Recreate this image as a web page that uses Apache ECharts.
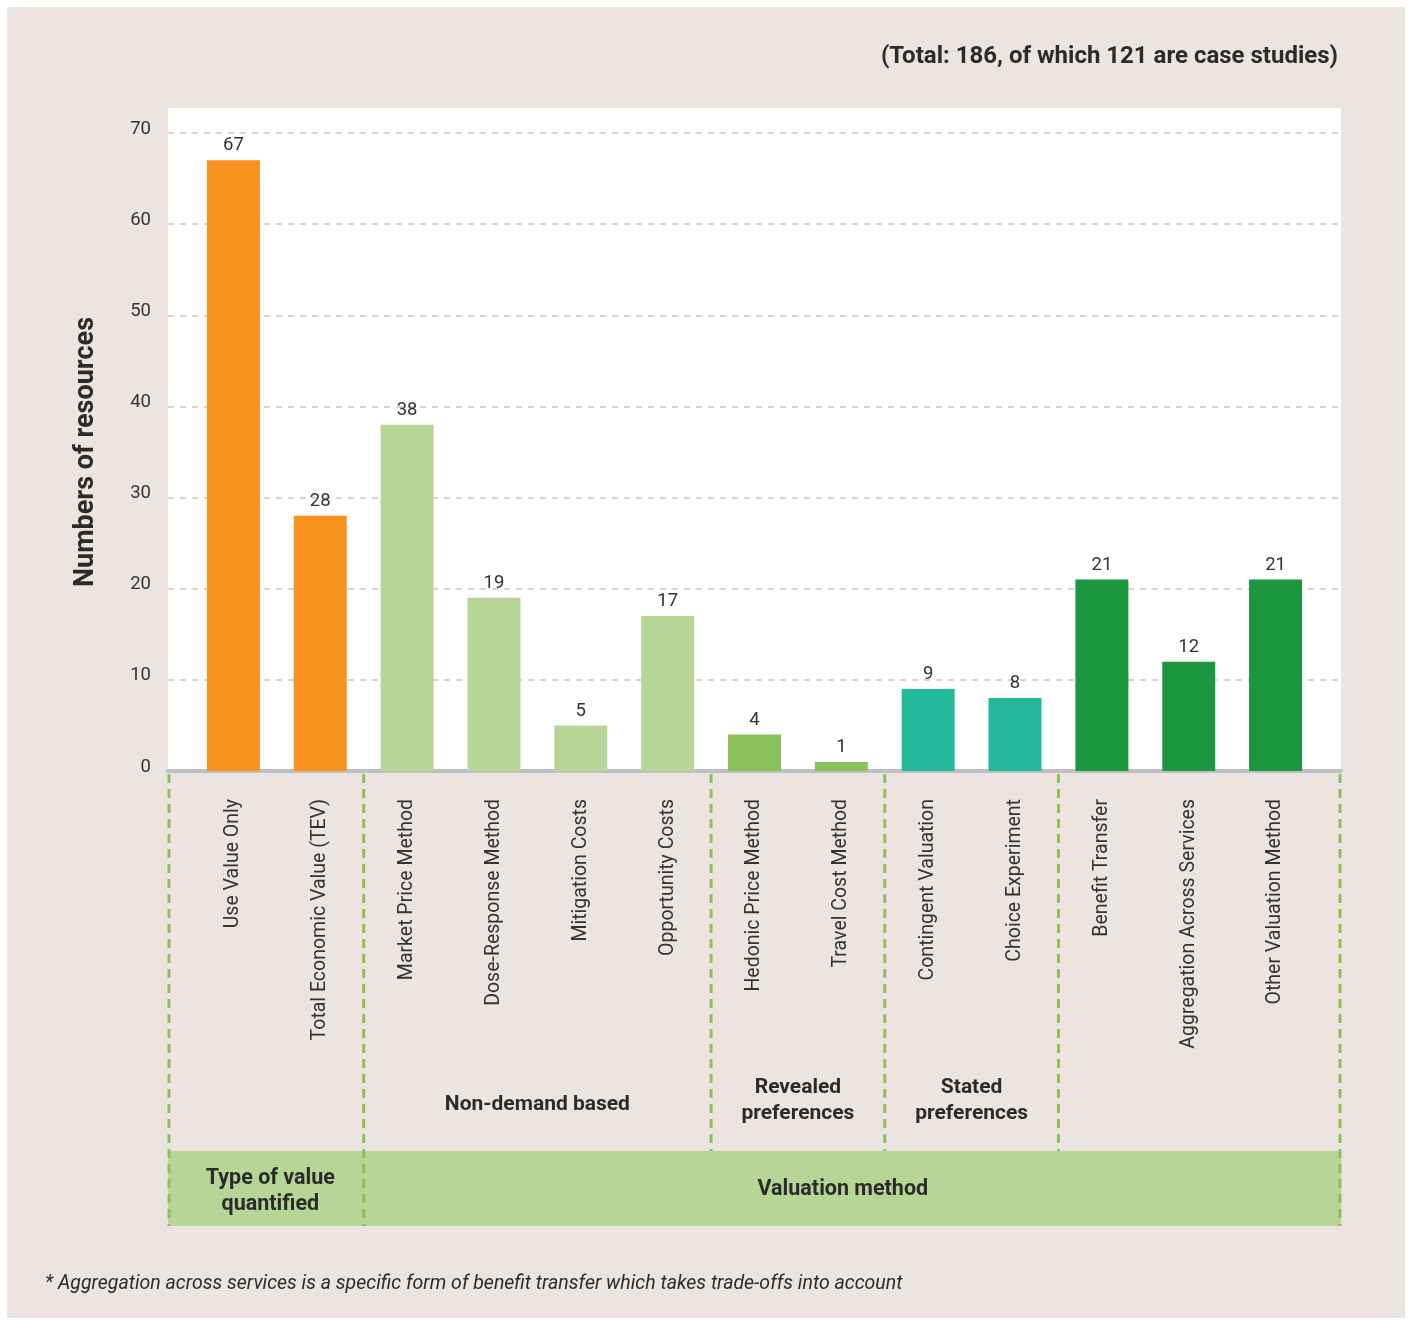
<!DOCTYPE html>
<html>
<head>
<meta charset="utf-8">
<title>Numbers of resources by valuation approach</title>
<script src="https://cdn.jsdelivr.net/npm/echarts@6/dist/echarts.min.js"></script>
<style>
  html, body { margin: 0; padding: 0; background: #ffffff; }
  #chart { width: 1413px; height: 1320px; }
</style>
</head>
<body>
<div id="chart"></div>
<script>
// Categories along the horizontal axis
const categories = [
  'Use Value Only', 'Total Economic Value (TEV)',
  'Market Price Method', 'Dose-Response Method', 'Mitigation Costs', 'Opportunity Costs',
  'Hedonic Price Method', 'Travel Cost Method',
  'Contingent Valuation', 'Choice Experiment',
  'Benefit Transfer', 'Aggregation Across Services', 'Other Valuation Method'
];
// Number of resources per category
const values = [67, 28, 38, 19, 5, 17, 4, 1, 9, 8, 21, 12, 21];
// Colour family for each category
const barColors = [
  '#f7931e', '#f7931e',
  '#b8d598', '#b8d598', '#b8d598', '#b8d598',
  '#8cc15a', '#8cc15a',
  '#23b99a', '#23b99a',
  '#1d9640', '#1d9640', '#1d9640'
];
// Sub-groups of methods (label, index of last category in the group)
const groupLabels = ['', 'Non-demand based', 'Revealed\npreferences', 'Stated\npreferences', ''];
const groupEnds = [1, 5, 7, 9, 12];
// Bottom band (label, index of last category in the band)
const bandLabels = ['Type of value\nquantified', 'Valuation method'];
const bandEnds = [1, 12];
// Value axis ticks
const yTicks = [0, 10, 20, 30, 40, 50, 60, 70];

const titleText = '(Total: 186, of which 121 are case studies)';
const noteText = '* Aggregation across services is a specific form of benefit transfer which takes trade-offs into account';
const yName = 'Numbers of resources';

const FONT = 'Roboto, "Noto Sans", sans-serif';
const TXT = '#2b2b2b';

// Panel geometry
const panel = { left: 168, right: 1341, top: 108, axisY: 771 };
const lowerY = { band: 1151, bottom: 1226 };

const chart = echarts.init(document.getElementById('chart'), null, { renderer: 'canvas' });

const baseOption = {
  backgroundColor: '#ffffff',
  animation: false,
  grid: [
    // frame grid: grid lines and base line span the full white panel
    { left: 168, right: 72, top: 133, bottom: 549 },
    // bar grid: inset so bars sit in their own columns
    { left: 190, right: 94, top: 133, bottom: 549 }
  ],
  xAxis: [
    {
      gridIndex: 0, type: 'category', data: categories,
      axisLine: { show: true, lineStyle: { color: '#bfbfc3', width: 4 } },
      axisTick: { show: false }, axisLabel: { show: false }, splitLine: { show: false }
    },
    {
      gridIndex: 1, type: 'category', data: categories,
      axisLine: { show: false }, axisTick: { show: false },
      axisLabel: {
        rotate: 90, margin: 28, interval: 0,
        fontFamily: FONT, fontSize: 19.5, color: '#333333'
      }
    }
  ],
  yAxis: [
    {
      gridIndex: 0, type: 'value', min: yTicks[0], max: yTicks[yTicks.length - 1],
      interval: yTicks[1] - yTicks[0],
      axisLine: { show: false }, axisTick: { show: false },
      axisLabel: { margin: 17, fontFamily: FONT, fontSize: 18.5, color: '#333333',
        verticalAlign: 'bottom', lineHeight: 8 },
      splitLine: { show: true, lineStyle: { color: '#c6c6c6', width: 1.5, type: [6, 6] } },
      name: yName, nameLocation: 'middle', nameGap: 68, nameRotate: 90,
      nameTextStyle: { fontFamily: FONT, fontSize: 27, fontWeight: 'bold', color: TXT }
    },
    {
      gridIndex: 1, type: 'value', min: yTicks[0], max: yTicks[yTicks.length - 1],
      interval: yTicks[1] - yTicks[0], show: false, splitLine: { show: false }
    }
  ],
  series: [{
    type: 'bar', xAxisIndex: 1, yAxisIndex: 1,
    barWidth: 53,
    data: values.map((v, i) => ({ value: v, itemStyle: { color: barColors[i] } })),
    label: {
      show: true, position: 'top', distance: 5,
      fontFamily: FONT, fontSize: 18.5, color: '#333333'
    },
    z: 3
  }]
};

chart.setOption(baseOption);

// Column boundaries between categories, from the bar axis scale
const cx = i => chart.convertToPixel({ xAxisIndex: 1 }, categories[i]);
const boundary = i => i < 0 ? panel.left + 1 : (i >= categories.length - 1 ? panel.right - 1 : (cx(i) + cx(i + 1)) / 2);

const dashGreen = { stroke: '#8cc15a', lineWidth: 3, lineDash: [9, 6] };
const elements = [];

// beige page panel and white plotting panel
elements.push({ type: 'rect', z: -100, silent: true,
  shape: { x: 7, y: 7, width: 1398, height: 1311 }, style: { fill: '#ebe4e1' } });
elements.push({ type: 'rect', z: -90, silent: true,
  shape: { x: panel.left, y: panel.top, width: panel.right - panel.left, height: panel.axisY - panel.top },
  style: { fill: '#ffffff' } });

// green band at the bottom
elements.push({ type: 'rect', z: -80, silent: true,
  shape: { x: panel.left, y: lowerY.band, width: panel.right - panel.left, height: lowerY.bottom - lowerY.band },
  style: { fill: '#b8d598' } });

// sub-group labels
let start = -1;
groupEnds.forEach((end, g) => {
  const x0 = boundary(start), x1 = boundary(end);
  if (groupLabels[g]) {
    const twoLines = groupLabels[g].indexOf('\n') >= 0;
    elements.push({ type: 'text', z: 10, silent: true,
      style: { x: (x0 + x1) / 2, y: twoLines ? 1101 : 1105, text: groupLabels[g], textAlign: 'center', textVerticalAlign: 'middle',
        font: 'bold 21px ' + FONT, fill: TXT, lineHeight: 26 } });
  }
  start = end;
});
// dashed lines: band edges reach the bottom, inner ones stop at the band
const bandEdgeIdx = new Set([-1].concat(bandEnds));
[-1].concat(groupEnds).forEach(i => {
  const x = boundary(i);
  const y2 = bandEdgeIdx.has(i) ? lowerY.bottom : lowerY.band;
  elements.push({ type: 'line', z: 5, silent: true,
    shape: { x1: x, y1: panel.axisY + 3, x2: x, y2: y2 }, style: dashGreen });
});

// band labels
start = -1;
bandEnds.forEach((end, b) => {
  const x0 = boundary(start), x1 = boundary(end);
  elements.push({ type: 'text', z: 10, silent: true,
    style: { x: (x0 + x1) / 2 + (b === 1 ? -9 : 4), y: b === 1 ? 1190 : 1192, text: bandLabels[b], textAlign: 'center', textVerticalAlign: 'middle',
      font: 'bold 21.5px ' + FONT, fill: TXT, lineHeight: 26 } });
  start = end;
});

// heading and footnote
elements.push({ type: 'text', z: 10, silent: true,
  style: { x: 1338, y: 57, text: titleText, textAlign: 'right', textVerticalAlign: 'middle',
    font: 'bold 24px ' + FONT, fill: TXT } });
elements.push({ type: 'text', z: 10, silent: true,
  style: { x: 45, y: 1284, text: noteText, textAlign: 'left', textVerticalAlign: 'middle',
    font: 'italic 19.5px ' + FONT, fill: TXT } });

chart.setOption({ graphic: { elements: elements } });
</script>
</body>
</html>
